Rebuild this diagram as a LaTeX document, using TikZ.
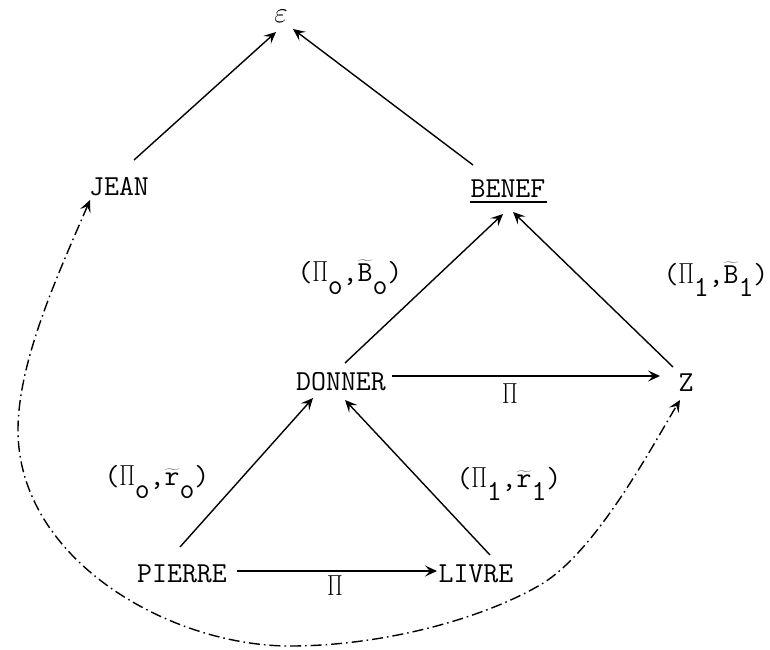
\RequirePackage{fix-cm}
\documentclass[tikz,border=0pt]{standalone}
\usetikzlibrary{arrows.meta,calc}
\newcommand\mytld[1]{\ensuremath{\widetilde{\mathtt{#1}}}}
\newcommand\lowr[1]{\raisebox{-0.45em}{#1}}
\newcommand\PI{\makebox[0.525em]{\scalebox{0.78}[1]{$\Pi$}}}
\begin{document}
\begin{tikzpicture}[x=1pt,y=-1pt,
  lbl/.style={inner sep=0pt, font=\fontsize{29}{34}\selectfont\ttfamily, anchor=base},
  arr/.style={line width=1.4pt, -{Stealth[length=12pt,width=11pt,inset=5pt]}},
  dd/.style={line width=1.4pt, dash pattern=on 11pt off 4pt on 1.6pt off 4pt,
     {Stealth[length=12pt,width=11pt,inset=5pt]}-{Stealth[length=12pt,width=11pt,inset=5pt]}},
]
\useasboundingbox (0,0) rectangle (770,649);
% nodes
\node[lbl] (eps) at (281,22) {$\varepsilon$};
\node[lbl] (jean) at (119,195) {JEAN};
\node[lbl] (benef) at (508,197) {BENEF};
\node[lbl] (donner) at (341,390) {DONNER};
\node[lbl] (z) at (686,391) {Z};
\node[lbl] (pierre) at (182,582) {PIERRE};
\node[lbl] (livre) at (476,582) {LIVRE};
\node[lbl] (pia) at (510,403) {\PI};
\node[lbl] (pib) at (335,595) {\PI};
\node[lbl] (lbo) at (350,281) {(\PI\lowr{o},\mytld{B}\lowr{o})};
\node[lbl] (lbi) at (716,283) {(\PI\lowr{1},\mytld{B}\lowr{1})};
\node[lbl] (lro) at (157,485) {(\PI\lowr{o},\mytld{r}\lowr{o})};
\node[lbl] (lri) at (509,487) {(\PI\lowr{1},\mytld{r}\lowr{1})};
% underline of BENEF
\draw[line width=1.3pt] ($(benef.base west)+(0,5)$) -- ($(benef.base east)+(1,5)$);
% arrows
\draw[arr] ($(jean.base)+(15,-35)$) -- ($(eps.base)+(-5,10)$);
\draw[arr] ($(benef.base)+(-35,-32)$) -- ($(eps.base)+(12,7)$);
\draw[arr] ($(donner.base)+(4,-27)$) -- ($(benef.base)+(-5,17)$);
\draw[arr] ($(z.base)+(-13,-24)$) -- ($(benef.base)+(5,15)$);
\draw[arr] ($(pierre.base)+(-2,-35)$) -- ($(donner.base)+(-28,8)$);
\draw[arr] ($(livre.base)+(14,-27)$) -- ($(donner.base)+(4,10)$);
\draw[arr] ($(donner.base)+(51,-14)$) -- ($(z.base)+(-26,-15)$);
\draw[arr] ($(pierre.base)+(55,-11)$) -- ($(livre.base)+(-39,-11)$);
% dash-dot curve
\coordinate (ddstart) at ($(jean.base)+(-29,5)$);
\coordinate (ddend) at ($(z.base)+(-6,9)$);
\draw[dd] (ddstart) .. controls (60,270) and (18,360) .. (18,430)
  .. controls (18,560) and (170,646) .. (290,646)
  .. controls (380,646) and (480,620) .. (540,585)
  .. controls (595,553) and (650,450) .. (ddend);
\end{tikzpicture}
\end{document}
